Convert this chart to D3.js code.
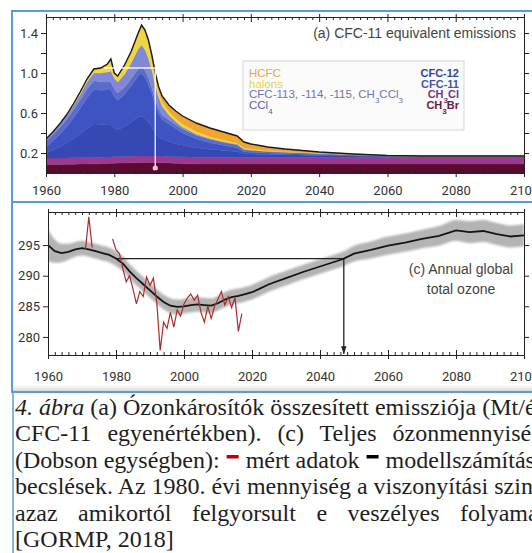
<!DOCTYPE html>
<html><head><meta charset="utf-8">
<script src="https://cdn.jsdelivr.net/npm/d3@7"></script>
<style>
html,body{margin:0;padding:0;background:#fff;overflow:hidden}
svg{display:block}
text{white-space:pre}
</style></head><body>
<svg id="fig" width="532" height="553"></svg>
<script>
// ---------- (a) CFC-11 equivalent emissions (Mt/yr) ----------
const emisYears = [1960,1962,1964,1966,1968,1970,1972,1974,1976,1978,1979,1980,1981,1983,1985,1987,1988,1989,1990,1991,1992,1993,1994,1996,1998,2000,2004,2008,2012,2016,2018,2020,2025,2030,2040,2050,2060,2070,2080,2090,2100];
const ch3br  = [.085,.085,.086,.087,.088,.09,.091,.092,.094,.096,.097,.098,.099,.1,.102,.104,.105,.105,.105,.105,.105,.104,.103,.1,.097,.095,.09,.09,.09,.09,.09,.09,.09,.09,.09,.09,.09,.09,.09,.09,.09];
const ch3cl  = [.064,.064,.064,.064,.064,.064,.064,.064,.064,.064,.064,.066,.066,.066,.066,.066,.066,.066,.066,.066,.066,.066,.066,.066,.066,.068,.068,.068,.068,.068,.068,.068,.068,.068,.068,.068,.068,.068,.068,.068,.068];
const cfc11  = [.051,.08,.11,.15,.19,.24,.29,.335,.33,.32,.32,.29,.27,.30,.34,.39,.40,.38,.34,.29,.23,.19,.17,.15,.13,.115,.095,.08,.068,.058,.035,.031,.027,.024,.018,.012,.007,.005,.005,.005,.005];
const cfc12  = [.06,.089,.124,.159,.208,.251,.304,.342,.339,.351,.349,.311,.289,.321,.367,.412,.429,.404,.374,.334,.274,.23,.196,.174,.152,.122,.09,.064,.052,.037,.02,.018,.014,.011,.008,.005,.003,.002,.003,.003,.003];
const ccl4   = [.06,.065,.07,.075,.08,.085,.09,.09,.085,.08,.08,.075,.075,.07,.07,.07,.07,.07,.065,.06,.055,.05,.045,.04,.04,.04,.035,.035,.03,.03,.022,.02,.016,.014,.011,.008,.005,.005,.004,.004,.004];
const cfc113 = [.02,.025,.03,.035,.045,.055,.07,.08,.09,.10,.11,.11,.11,.13,.16,.20,.21,.21,.20,.18,.15,.12,.09,.05,.03,.02,.012,.008,.005,.004,.003,.003,.002,.002,.001,.001,0,0,0,0,0];
const halons = [0,.002,.005,.008,.012,.02,.025,.03,.04,.07,.11,.04,.05,.08,.10,.14,.18,.17,.15,.11,.08,.055,.045,.035,.03,.03,.025,.02,.017,.013,.012,.01,.008,.006,.004,.002,.001,0,0,0,0];
const hcfc   = [0,0,.001,.002,.003,.005,.006,.007,.008,.009,.01,.01,.011,.013,.015,.018,.02,.025,.03,.035,.04,.045,.055,.065,.075,.08,.085,.085,.08,.07,.06,.05,.035,.025,.01,.004,.001,0,0,0,0];
const emisTicks = [0.2,0.4,0.6,0.8,1.0,1.2,1.4];
const emisTickLabels = [0.2,0.6,1.0,1.4];

// ---------- (c) Annual global total ozone (DU) ----------
const modelYears = [1960,1962,1964,1966,1968,1970,1972,1974,1976,1978,1980,1982,1984,1986,1988,1990,1992,1994,1996,1998,2000,2002,2004,2006,2008,2010,2012,2014,2016,2018,2020,2022,2025,2030,2035,2040,2045,2047,2050,2055,2060,2065,2070,2075,2080,2084,2088,2092,2096,2100];
const modelMean  = [295.0,294.0,293.7,293.9,294.3,294.5,294.3,294.0,293.7,293.4,292.8,292.0,290.7,289.6,288.6,287.6,286.6,285.7,285.1,284.9,285.0,285.2,285.3,285.2,285.1,285.5,286.1,286.5,286.7,287.0,287.3,287.8,288.6,289.6,290.6,291.5,292.4,292.8,293.6,294.2,294.9,295.4,296.0,296.5,297.4,297.1,297.3,296.8,296.4,296.6];
const modelSpread = [2.6,1.9,1.5,1.3,1.2,1.2,1.2,1.2,1.2,1.2,1.2,1.2,1.2,1.2,1.2,1.2,1.2,1.2,1.2,1.2,1.2,1.2,1.2,1.2,1.2,1.2,1.2,1.2,1.2,1.2,1.2,1.2,1.2,1.2,1.2,1.2,1.2,1.2,1.3,1.4,1.5,1.5,1.5,1.6,1.7,1.8,1.8,1.8,1.8,1.8];
const obsYears  = [1971,1972,1973,1974,1979,1980,1981,1982,1983,1984,1985,1986,1987,1988,1989,1990,1991,1992,1993,1994,1995,1996,1997,1998,1999,2000,2001,2002,2003,2004,2005,2006,2007,2008,2009,2010,2011,2012,2013,2014,2015,2016,2017];
const obsOzone  = [294.2,299.6,294.6,null,296.0,294.2,293.6,291.2,289.0,290.0,287.8,285.4,287.4,286.6,289.8,288.4,289.6,285.6,277.8,282.4,281.4,284.0,281.6,284.4,283.4,285.4,286.4,287.0,286.0,286.8,284.0,282.4,285.0,283.0,285.0,286.2,287.4,285.2,286.6,284.8,286.4,280.9,283.8];
const ozoneTicks = [280,285,290,295];
const refLevel = 292.8, recoveryYear = 2047;

const xMajor = d3.range(1960, 2101, 20);
const xMinor = d3.range(1960, 2101, 2).filter(v => v % 20 !== 0);

const svg = d3.select("#fig");
const axisFont = "'Liberation Sans Narrow', Roboto, sans-serif";
const panelFont = "'Liberation Sans', Arial, sans-serif";

// outer blue frames
const frame = "#5b9bd5";
svg.append("rect").attr("x",12).attr("y",11).attr("width",540).attr("height",191)
  .attr("fill","none").attr("stroke",frame).attr("stroke-width",2);
const shade = svg.append("defs").append("linearGradient").attr("id","shade").attr("x1",0).attr("x2",0).attr("y1",0).attr("y2",1);
shade.append("stop").attr("offset","0%").attr("stop-color","#fff");
shade.append("stop").attr("offset","100%").attr("stop-color","#d9d9d9");
svg.append("rect").attr("x",13).attr("y",385).attr("width",519).attr("height",6).attr("fill","url(#shade)");
svg.append("rect").attr("x",12).attr("y",202).attr("width",540).attr("height",190)
  .attr("fill","none").attr("stroke",frame).attr("stroke-width",2);
svg.append("line").attr("x1",13).attr("x2",13).attr("y1",392).attr("y2",553)
  .attr("stroke",frame).attr("stroke-width",1.5);

const defs = svg.select("defs");
defs.append("filter").attr("id","soft").append("feGaussianBlur").attr("stdDeviation",0.9);
defs.append("marker").attr("id","arrow").attr("viewBox","0 0 10 10").attr("refX",10).attr("refY",5)
  .attr("markerWidth",6).attr("markerHeight",6).attr("orient","auto")
  .append("path").attr("d","M0,1.5 L10,5 L0,8.5 Z").attr("fill","#222");

function frameAxes(g, x, y, box, yTicks, yFmt, labelPad) {
  const styleAxis = sel => {
    sel.selectAll("path,line").attr("stroke","#222").attr("stroke-width",1);
    sel.selectAll("text").attr("fill","#333").style("font-family",axisFont).style("font-size","13px");
  };
  // bottom
  g.append("g").attr("transform",`translate(0,${box.bottom})`)
    .call(d3.axisBottom(x).tickValues(xMajor).tickSize(4).tickSizeOuter(0).tickPadding(labelPad).tickFormat(d3.format("d"))).call(styleAxis);
  g.append("g").attr("transform",`translate(0,${box.bottom})`)
    .call(d3.axisTop(x).tickValues(xMinor).tickSize(3).tickSizeOuter(0).tickFormat("")).call(styleAxis);
  g.append("g").attr("transform",`translate(0,${box.bottom})`)
    .call(d3.axisTop(x).tickValues(xMajor).tickSize(5).tickSizeOuter(0).tickFormat("")).call(styleAxis);
  // top
  g.append("g").attr("transform",`translate(0,${box.top})`)
    .call(d3.axisBottom(x).tickValues(xMinor).tickSize(3).tickSizeOuter(0).tickFormat("")).call(styleAxis);
  g.append("g").attr("transform",`translate(0,${box.top})`)
    .call(d3.axisBottom(x).tickValues(xMajor).tickSize(5).tickSizeOuter(0).tickFormat("")).call(styleAxis);
  g.append("g").attr("transform",`translate(0,${box.top})`)
    .call(d3.axisTop(x).tickValues(xMajor).tickSize(3).tickSizeOuter(0).tickFormat("")).call(styleAxis);
  // left
  g.append("g").attr("transform",`translate(${box.left},0)`)
    .call(d3.axisLeft(y).tickValues(yTicks).tickSize(5).tickSizeOuter(0).tickPadding(3).tickFormat(yFmt)).call(styleAxis);
  // right
  g.append("g").attr("transform",`translate(${box.right},0)`)
    .call(d3.axisRight(y).tickValues(yTicks).tickSize(5).tickSizeOuter(0).tickFormat("")).call(styleAxis);
}

// ================= panel (a) =================
const b1 = {left:46, right:524, top:17, bottom:173};
const x1 = d3.scaleLinear().domain([1960,2100]).range([b1.left,b1.right]);
const y1 = d3.scaleLinear().domain([0,1.56]).range([b1.bottom,b1.top]);
defs.append("clipPath").attr("id","clipA").append("rect")
  .attr("x",b1.left).attr("y",b1.top).attr("width",b1.right-b1.left).attr("height",b1.bottom-b1.top);

const layers = [
  {key:"CH3Br",  vals:ch3br,  fill:"#5a0b2f"},
  {key:"CH3Cl",  vals:ch3cl,  fill:"#9b3a90"},
  {key:"CFC-11", vals:cfc11,  fill:"#3548b4"},
  {key:"CFC-12", vals:cfc12,  fill:"#3d54c2"},
  {key:"CCl4",   vals:ccl4,   fill:"#5a6bcb"},
  {key:"CFC-113",vals:cfc113, fill:"#8189d6"},
  {key:"halons", vals:halons, fill:"#efd63f"},
  {key:"HCFC",   vals:hcfc,   fill:"#f1a52c"}
];
const rows = emisYears.map((yr,i) => {
  const r = {year:yr};
  layers.forEach(l => r[l.key] = l.vals[i]);
  return r;
});
const stacked = d3.stack().keys(layers.map(l => l.key))(rows);
const area1 = d3.area().x(d => x1(d.data.year)).y0(d => y1(d[0])).y1(d => y1(d[1]));
const gA = svg.append("g");
const plotA = gA.append("g").attr("clip-path","url(#clipA)");
plotA.selectAll("path.layer").data(stacked).join("path").attr("class","layer")
  .attr("d",area1).attr("fill",(d,i) => layers[i].fill)
  .attr("stroke",(d,i) => layers[i].fill).attr("stroke-width",0.4);
plotA.append("path").datum(stacked[stacked.length-1])
  .attr("d", d3.line().x(d => x1(d.data.year)).y(d => y1(d[1])))
  .attr("fill","none").attr("stroke","#1b1b1b").attr("stroke-width",1.4);
// return-to-1980-level marker
plotA.append("line").attr("x1",x1(1977)).attr("x2",x1(1992)).attr("y1",y1(1.05)).attr("y2",y1(1.05))
  .attr("stroke","#fff").attr("stroke-width",1.4).attr("opacity",0.9);
plotA.append("line").attr("x1",x1(1992)).attr("x2",x1(1992)).attr("y1",y1(1.05)).attr("y2",y1(0.05))
  .attr("stroke","#fff").attr("stroke-width",1.4).attr("opacity",0.9);
plotA.append("circle").attr("cx",x1(1992)).attr("cy",y1(0.05)).attr("r",2.6).attr("fill","#f4c6d6");

frameAxes(gA, x1, y1, b1, emisTicks, d => emisTickLabels.some(v => Math.abs(v-d)<1e-9) ? d3.format(".1f")(d) : "", 9);

gA.append("text").attr("x",516).attr("y",38).attr("text-anchor","end")
  .style("font-family",panelFont).style("font-size","14px").attr("fill","#444")
  .text("(a) CFC-11 equivalent emissions");

// legend
const lg = gA.append("g");
lg.append("rect").attr("x",243).attr("y",61).attr("width",221).attr("height",69)
  .attr("fill","#fbfbfb").attr("stroke","#d4d4d4").attr("stroke-width",1);
function richText(sel, parts) {
  parts.forEach(p => {
    if (Array.isArray(p)) sel.append("tspan").attr("baseline-shift","sub").style("font-size","8px").text(p[0]);
    else sel.append("tspan").text(p);
  });
}
const legendLeft = [
  {parts:["HCFC"], color:"#f2a540"},
  {parts:["halons"], color:"#e2d649"},
  {parts:["CFC-113, -114, -115, CH",["3"],"CCl",["3"]], color:"#6d74b6"},
  {parts:["CCl",["4"]], color:"#545ea4"}
];
const legendRight = [
  {parts:["CFC-12"], color:"#33449a"},
  {parts:["CFC-11"], color:"#4357ae"},
  {parts:["CH",["3"],"Cl"], color:"#6a3a8a"},
  {parts:["CH",["3"],"Br"], color:"#6b1b40"}
];
const legRows = [77, 87.5, 98, 108.5];
legendLeft.forEach((e,i) => {
  const t = lg.append("text").attr("x",249).attr("y",legRows[i]).attr("fill",e.color)
    .style("font-family",panelFont).style("font-size","11.5px");
  richText(t, e.parts);
});
legendRight.forEach((e,i) => {
  const t = lg.append("text").attr("x",459).attr("y",legRows[i]).attr("text-anchor","end").attr("fill",e.color)
    .style("font-family",panelFont).style("font-size","11px").style("font-weight","bold");
  richText(t, e.parts);
});

// ================= panel (c) =================
const b2 = {left:48, right:524, top:212, bottom:355};
const x2 = d3.scaleLinear().domain([1960,2100]).range([b2.left,b2.right]);
const y2 = d3.scaleLinear().domain([277.05,300.4]).range([b2.bottom,b2.top]);
defs.append("clipPath").attr("id","clipC").append("rect")
  .attr("x",b2.left).attr("y",b2.top).attr("width",b2.right-b2.left).attr("height",b2.bottom-b2.top);
const gC = svg.append("g");
const plotC = gC.append("g").attr("clip-path","url(#clipC)");
const model = modelYears.map((yr,i) => ({year:yr, mean:modelMean[i], sd:modelSpread[i]}));
plotC.append("path").datum(model)
  .attr("d", d3.area().curve(d3.curveMonotoneX).x(d => x2(d.year)).y0(d => y2(d.mean - d.sd)).y1(d => y2(d.mean + d.sd)))
  .attr("fill","#b4b4b4").attr("filter","url(#soft)");
plotC.append("line").attr("x1",x2(1980)).attr("x2",x2(recoveryYear)).attr("y1",y2(refLevel)).attr("y2",y2(refLevel))
  .attr("stroke","#222").attr("stroke-width",1.3);
plotC.append("line").attr("x1",x2(recoveryYear)).attr("x2",x2(recoveryYear)).attr("y1",y2(refLevel)).attr("y2",b2.bottom-1)
  .attr("stroke","#222").attr("stroke-width",1.3).attr("marker-end","url(#arrow)");
const obs = obsYears.map((yr,i) => ({year:yr, v:obsOzone[i]}));
plotC.append("path").datum(model)
  .attr("d", d3.line().x(d => x2(d.year)).y(d => y2(d.mean)))
  .attr("fill","none").attr("stroke","#151515").attr("stroke-width",1.8);
plotC.append("path").datum(obs)
  .attr("d", d3.line().defined(d => d.v !== null).x(d => x2(d.year)).y(d => y2(d.v)))
  .attr("fill","none").attr("stroke","#ad2b2b").attr("stroke-width",1.2);

frameAxes(gC, x2, y2, b2, ozoneTicks, d3.format("d"), 13);

const lab = gC.append("text").attr("text-anchor","middle").attr("fill","#444")
  .style("font-family",panelFont).style("font-size","14px");
lab.append("tspan").attr("x",461).attr("y",274).text("(c) Annual global");
lab.append("tspan").attr("x",461).attr("y",294).text("total ozone");

// ================= caption =================
const capFont = "'Liberation Serif','Times New Roman',serif";
const capSize = 24;
const capX = 15;
const cap = svg.append("g").attr("fill","#1e1e1e").style("font-family",capFont).style("font-size",capSize+"px");
function capLine(y, pieces, wordSpacing) {
  let x = capX;
  pieces.forEach(p => {
    if (p.bar) {
      cap.append("rect").attr("x",x+1).attr("y",y-13).attr("width",12).attr("height",3.5).attr("fill",p.bar);
      x += 14;
    } else {
      const t = cap.append("text").attr("x",x).attr("y",y).text(p.t);
      if (p.i) t.style("font-style","italic");
      if (wordSpacing) t.style("word-spacing",wordSpacing+"px");
      x += t.node().getComputedTextLength();
    }
  });
}
capLine(415, [{t:"4. ábra", i:true}, {t:" (a) Ózonkárosítók összesített emissziója (Mt/év"}]);
capLine(441, [{t:"CFC-11 egyenértékben). (c) Teljes ózonmennyiség"}], 10);
capLine(468, [{t:"(Dobson egységben): "}, {bar:"#c00000"}, {t:" mért adatok "}, {bar:"#000"}, {t:" modellszámítások,"}]);
capLine(494, [{t:"becslések. Az 1980. évi mennyiség a viszonyítási szint,"}]);
capLine(521, [{t:"azaz amikortól felgyorsult e veszélyes folyamat"}], 14.5);
capLine(547, [{t:"[GORMP, 2018]"}]);
</script>
</body></html>
